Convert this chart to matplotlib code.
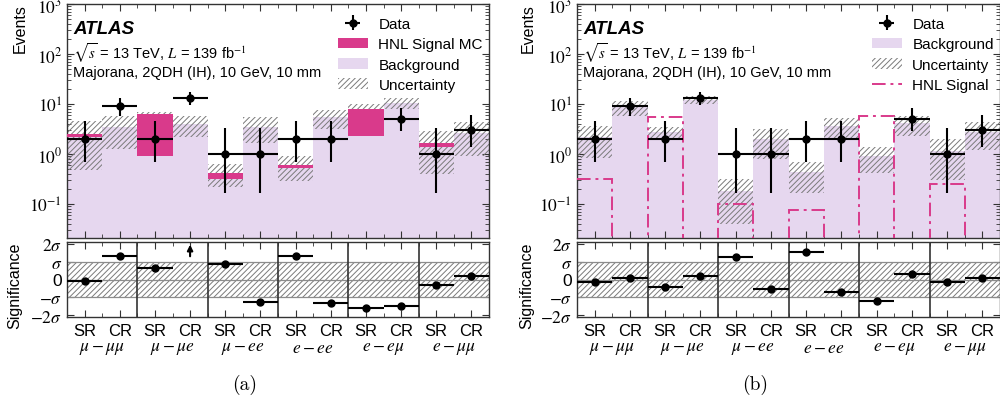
import numpy as np
import matplotlib
matplotlib.use('Agg')
import matplotlib.pyplot as plt
from matplotlib.patches import Patch
from matplotlib.lines import Line2D
from matplotlib.transforms import blended_transform_factory
from matplotlib.ticker import FixedLocator, NullFormatter, LogLocator

plt.rcParams['mathtext.fontset'] = 'stix'
plt.rcParams['font.family'] = ['Liberation Sans', 'DejaVu Sans']
plt.rcParams['hatch.linewidth'] = 0.7

# ---------------- data ----------------
regions = ['SR', 'CR'] * 6
channels = [r'$\mu-\mu\mu$', r'$\mu-\mu e$', r'$\mu-ee$',
            r'$e-ee$', r'$e-e\mu$', r'$e-\mu\mu$']

data = [2, 9, 2, 13, 1, 1, 2, 2, 0, 5, 1, 3]
data_lo = [0.71, 5.9, 0.71, 9.4, 0.17, 0.17, 0.71, 0.71, 0, 2.84, 0.17, 1.37]
data_hi = [4.64, 13.1, 4.64, 17.6, 3.30, 3.30, 4.64, 4.64, 0, 8.38, 3.30, 5.92]

signal = [0.32, 0, 5.4, 0, 0.10, 0, 0.075, 0, 5.8, 0, 0.25, 0]

bkg_a = [2.2, 3.55, 0.91, 4.0, 0.32, 3.55, 0.53, 5.4, 2.3, 10.5, 1.4, 2.6]
unc_a = [2.05, 2.3, 0.6, 1.85, 0.2, 1.85, 0.31, 2.3, 1.9, 2.6, 1.25, 1.7]

bkg_b = [2.2, 8.7, 2.7, 12.1, 0.18, 2.0, 0.43, 3.6, 0.9, 4.1, 1.15, 2.8]
unc_b = [1.37, 3.0, 0.75, 2.1, 0.14, 1.2, 0.26, 1.6, 0.48, 1.75, 0.85, 1.6]

signif_a = [-0.11, 1.33, 0.67, 2.5, 0.85, -1.26, 1.33, -1.30, -1.59, -1.48, -0.30, 0.22]
signif_b = [-0.13, 0.06, -0.42, 0.17, 1.25, -0.51, 1.55, -0.68, -1.23, 0.32, -0.13, 0.09]

BKG = '#e6d7ef'
SIG = '#d93a8b'
HATCH = '#7a7a7a'
SPINE = '#333333'

fig = plt.figure(figsize=(10, 4.06), dpi=100)


def style_axis(ax):
    for s in ax.spines.values():
        s.set_color(SPINE)
        s.set_linewidth(1.0)
    ax.tick_params(which='both', direction='in', top=True, right=True, colors=SPINE)
    ax.tick_params(which='major', length=5, labelcolor='black')
    ax.tick_params(which='minor', length=3)


def panel(x0, width, bkg, unc, stacked, signif, legend_x, label, tag_x):
    n = len(data)
    edges = np.arange(n + 1)
    centers = np.arange(n) + 0.5
    bkg = np.array(bkg, float)
    unc = np.array(unc, float)
    sig = np.array(signal, float)
    d = np.array(data, float)
    lo = np.array(data_lo, float)
    hi = np.array(data_hi, float)

    ax = fig.add_axes([x0, 1 - 239 / 406, width, 234 / 406])
    rx = fig.add_axes([x0, 1 - 318 / 406, width, 75 / 406])

    # ---- top panel ----
    ax.set_yscale('log')
    ax.set_ylim(0.021, 1000)
    ax.set_xlim(0, n)
    ax.stairs(bkg, edges, baseline=1e-4, fill=True, color=BKG, lw=0, zorder=1)
    total = bkg + sig if stacked else bkg
    ax.bar(centers, 2 * unc, bottom=total - unc, width=1.0, fill=False,
           hatch='//////', edgecolor=HATCH, linewidth=0, zorder=2)
    if stacked:
        ax.stairs(total, edges, baseline=bkg, fill=True, color=SIG, lw=0, zorder=3)
        h_sig = Patch(facecolor=SIG, edgecolor='none')
    else:
        sv = np.where(sig > 0, sig, 1e-5)
        ax.stairs(sv, edges, baseline=None, color=SIG, lw=1.4,
                  linestyle=(0, (7, 2.5, 1.5, 2.5)), zorder=3)
        h_sig = Line2D([], [], color=SIG, lw=1.4, linestyle=(0, (7, 2.5, 1.5, 2.5)))
    m = d > 0
    hd = ax.errorbar(centers[m], d[m], yerr=[d[m] - lo[m], hi[m] - d[m]], xerr=0.5,
                     fmt='o', color='black', ms=5, elinewidth=1.5, capsize=0, zorder=5)

    style_axis(ax)
    ax.set_yticks([0.1, 1, 10, 100, 1000],
                  [r'$10^{-1}$', r'$10^{0}$', r'$10^{1}$', r'$10^{2}$', r'$10^{3}$'],
                  fontsize=12.5)
    ax.yaxis.set_minor_locator(LogLocator(base=10, subs=np.arange(2, 10) * 1.0, numticks=20))
    ax.yaxis.set_minor_formatter(NullFormatter())
    ax.xaxis.set_major_locator(FixedLocator(centers))
    ax.xaxis.set_minor_locator(FixedLocator(edges))
    ax.set_xticklabels([])

    ax.text(0.015, 0.895, 'ATLAS', transform=ax.transAxes, fontsize=13.5,
            fontweight='bold', fontstyle='italic', va='center', ha='left')
    ax.text(0.015, 0.795, r'$\sqrt{s}$ = 13 TeV, $L$ = 139 fb$^{-1}$', transform=ax.transAxes,
            fontsize=10.5, va='center', ha='left')
    ax.text(0.015, 0.71, 'Majorana, 2QDH (IH), 10 GeV, 10 mm', transform=ax.transAxes,
            fontsize=10.5, va='center', ha='left')

    h_bkg = Patch(facecolor=BKG, edgecolor='none')
    h_unc = Patch(facecolor='none', edgecolor=HATCH, hatch='//////', lw=0)
    if stacked:
        handles = [hd, h_sig, h_bkg, h_unc]
        labels = ['Data', 'HNL Signal MC', 'Background', 'Uncertainty']
    else:
        handles = [hd, h_bkg, h_unc, h_sig]
        labels = ['Data', 'Background', 'Uncertainty', 'HNL Signal']
    ax.legend(handles, labels, loc='upper left', bbox_to_anchor=(legend_x, 0.945),
              frameon=False, fontsize=11, handlelength=1.95, handletextpad=0.7,
              labelspacing=0.42, borderaxespad=0.0, borderpad=0.0)

    # ---- significance panel ----
    rx.set_xlim(0, n)
    rx.set_ylim(-2.1, 2.1)
    rx.fill_between([0, n], -1, 1, facecolor='none', hatch='//////', edgecolor=HATCH,
                    linewidth=0, zorder=1)
    for yv in (-1, 0, 1):
        rx.axhline(yv, color='#8c8c8c', lw=0.9, zorder=2)
    for xv in range(2, n, 2):
        rx.axvline(xv, color=SPINE, lw=1.2, zorder=3)
    s = np.array(signif, float)
    ymax = rx.get_ylim()[1]
    ins = s < ymax
    rx.errorbar(centers[ins], s[ins], xerr=0.5, fmt='o', color='black', ms=5,
                elinewidth=1.5, capsize=0, zorder=5)
    for c in centers[~ins]:
        rx.annotate('', xy=(c, 1.95), xytext=(c, 1.3),
                    arrowprops=dict(arrowstyle='-|>', color='black', lw=1.5,
                                    mutation_scale=8, shrinkA=0, shrinkB=0), zorder=5)
    style_axis(rx)
    rx.set_yticks([-2, -1, 0, 1, 2],
                  [r'$-2\sigma$', r'$-\sigma$', '0', r'$\sigma$', r'$2\sigma$'], fontsize=12.5)
    rx.xaxis.set_major_locator(FixedLocator(centers))
    rx.xaxis.set_minor_locator(FixedLocator(edges))
    rx.set_xticklabels(regions, fontsize=12)
    rx.tick_params(axis='x', which='major', pad=4)
    tr = blended_transform_factory(rx.transData, rx.transAxes)
    for i, ch in enumerate(channels):
        rx.text(2 * i + 1, -0.41, ch, transform=tr, ha='center', va='center', fontsize=12.5)

    fig.text(tag_x, 1 - 385 / 406, label, family='cmr10', fontsize=14,
             ha='center', va='center')


panel(0.067, 0.422, bkg_a, unc_a, True, signif_a, 0.642, '(a)', 0.245)
panel(0.577, 0.423, bkg_b, unc_b, False, signif_b, 0.697, '(b)', 0.755)

for xl in (0.020, 0.528):
    fig.text(xl, 1 - 4 / 406, 'Events', rotation=90, ha='center', va='top', fontsize=11.5)
for xl in (0.015, 0.527):
    fig.text(xl, 1 - 286 / 406, 'Significance', rotation=90, ha='center', va='center',
             fontsize=11.5)

fig.savefig('out.png', dpi=100)
